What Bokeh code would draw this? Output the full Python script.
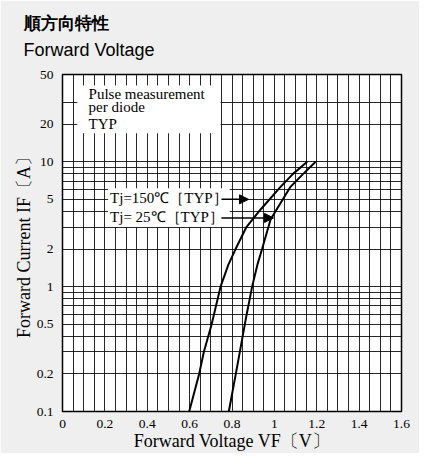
from bokeh.plotting import figure
from bokeh.models import FixedTicker, Label, Arrow, NormalHead, BoxAnnotation, Range1d, Title
from bokeh.embed import file_html
from bokeh.resources import INLINE

# ---- data ----
vf_150 = [0.598, 0.645, 0.667, 0.704, 0.746, 0.783, 0.817, 0.868, 0.934, 1.029, 1.088, 1.155]
if_150 = [0.10, 0.20, 0.30, 0.50, 1.0, 1.5, 2.0, 3.0, 4.13, 6.3, 8.0, 10.0]

vf_25 = [0.785, 0.818, 0.837, 0.865, 0.895, 0.920, 0.942, 0.982, 1.076, 1.136, 1.195]
if_25 = [0.10, 0.20, 0.30, 0.55, 1.0, 1.5, 2.0, 3.45, 6.3, 8.0, 10.0]

x_ticks = [0, 0.2, 0.4, 0.6, 0.8, 1.0, 1.2, 1.4, 1.6]
x_tick_labels = ["0", "0.2", "0.4", "0.6", "0.8", "1", "1.2", "1.4", "1.6"]
y_ticks = [0.1, 0.2, 0.5, 1, 2, 5, 10, 20, 50]
y_tick_labels = ["0.1", "0.2", "0.5", "1", "2", "5", "10", "20", "50"]
x_grid = [round(0.05 * i, 2) for i in range(1, 32)]
y_grid = [0.2, 0.3, 0.4, 0.5, 0.6, 0.7, 0.8, 0.9, 1, 2, 3, 4, 5, 6, 7, 8, 9, 10, 20, 30]

SERIF = "Liberation Serif"

p = figure(width=419, height=453, x_range=Range1d(0, 1.6), y_range=Range1d(0.1, 50),
           y_axis_type="log", output_backend="svg", toolbar_location=None, title=None,
           min_border_left=62, min_border_right=18, min_border_top=74, min_border_bottom=40)
p.border_fill_color = "#eeefee"
p.background_fill_color = "white"
p.outline_line_color = "black"
p.outline_line_width = 1.5

p.xgrid.ticker = FixedTicker(ticks=x_grid)
p.ygrid.ticker = FixedTicker(ticks=y_grid)
for g in (p.xgrid, p.ygrid):
    g.grid_line_color = "#111111"
    g.grid_line_width = 1
    g.grid_line_alpha = 0.9

p.xaxis.ticker = FixedTicker(ticks=x_ticks)
p.xaxis.major_label_overrides = dict(zip(x_ticks, x_tick_labels))
p.yaxis.ticker = FixedTicker(ticks=y_ticks)
p.yaxis.major_label_overrides = dict(zip(y_ticks, y_tick_labels))
for ax in (p.xaxis, p.yaxis):
    ax.axis_line_color = None
    ax.major_tick_line_color = None
    ax.minor_tick_line_color = None
    ax.major_label_text_font = SERIF
    ax.major_label_text_font_size = "13.5px"
    ax.major_label_text_color = "black"
    ax.major_label_standoff = 3
    ax.axis_label_text_font = SERIF
    ax.axis_label_text_font_size = "18px"
    ax.axis_label_text_font_style = "normal"
    ax.axis_label_text_color = "black"
    ax.axis_label_standoff = 0
p.xaxis.major_label_standoff = 2
p.xaxis.axis_label = "Forward Voltage VF〔V〕"
p.yaxis.axis_label = "Forward Current IF〔A〕"

# curves
p.line(vf_150, if_150, line_color="black", line_width=2)
p.line(vf_25, if_25, line_color="black", line_width=2)

# note box
p.add_layout(BoxAnnotation(left=0.07, right=0.746, bottom=16.9, top=40.8,
                           fill_color="white", fill_alpha=1, line_color=None))
p.line([0.109, 0.092, 0.085, 0.085, 0.092, 0.109], [40.1, 38.6, 35.3, 19.6, 18.0, 17.1],
       line_color="black", line_width=1.8)
p.line([0.706, 0.723, 0.730, 0.730, 0.723, 0.706], [40.1, 38.6, 35.3, 19.6, 18.0, 17.1],
       line_color="black", line_width=1.8)
for txt, yv in (("Pulse measurement", 35.1), ("per diode", 27.5), ("TYP", 20.2)):
    p.add_layout(Label(x=0.123, y=yv, text=txt, text_baseline="middle",
                       text_font=SERIF, text_font_size="15px", text_color="black"))

# temperature labels with arrows
p.add_layout(Label(x=0.215, y=5.1, text="Tj=150℃［TYP］", text_baseline="middle",
                   text_font=SERIF, text_font_size="15px", text_color="black",
                   background_fill_color="white", padding=2))
p.add_layout(Label(x=0.215, y=3.62, text="Tj=  25℃［TYP］", text_baseline="middle",
                   text_font=SERIF, text_font_size="15px", text_color="black",
                   background_fill_color="white", padding=2))
p.add_layout(Arrow(x_start=0.75, y_start=5.0, x_end=0.878, y_end=5.0, line_width=1.5,
                   end=NormalHead(size=9, fill_color="black", line_color="black")))
p.add_layout(Arrow(x_start=0.75, y_start=3.55, x_end=0.996, y_end=3.55, line_width=1.5,
                   end=NormalHead(size=9, fill_color="black", line_color="black")))

# titles (later-added goes farther from the plot)
p.add_layout(Title(text="Forward Voltage", align="left", offset=-39, standoff=29,
                   text_font="Liberation Sans", text_font_size="18px",
                   text_font_style="normal", text_color="black"), "above")
p.add_layout(Title(text="順方向特性", align="left", offset=-39, standoff=-19,
                   text_font="Liberation Sans", text_font_size="17px",
                   text_font_style="bold", text_color="black"), "above")

open("out.html", "w").write(file_html(p, INLINE))
